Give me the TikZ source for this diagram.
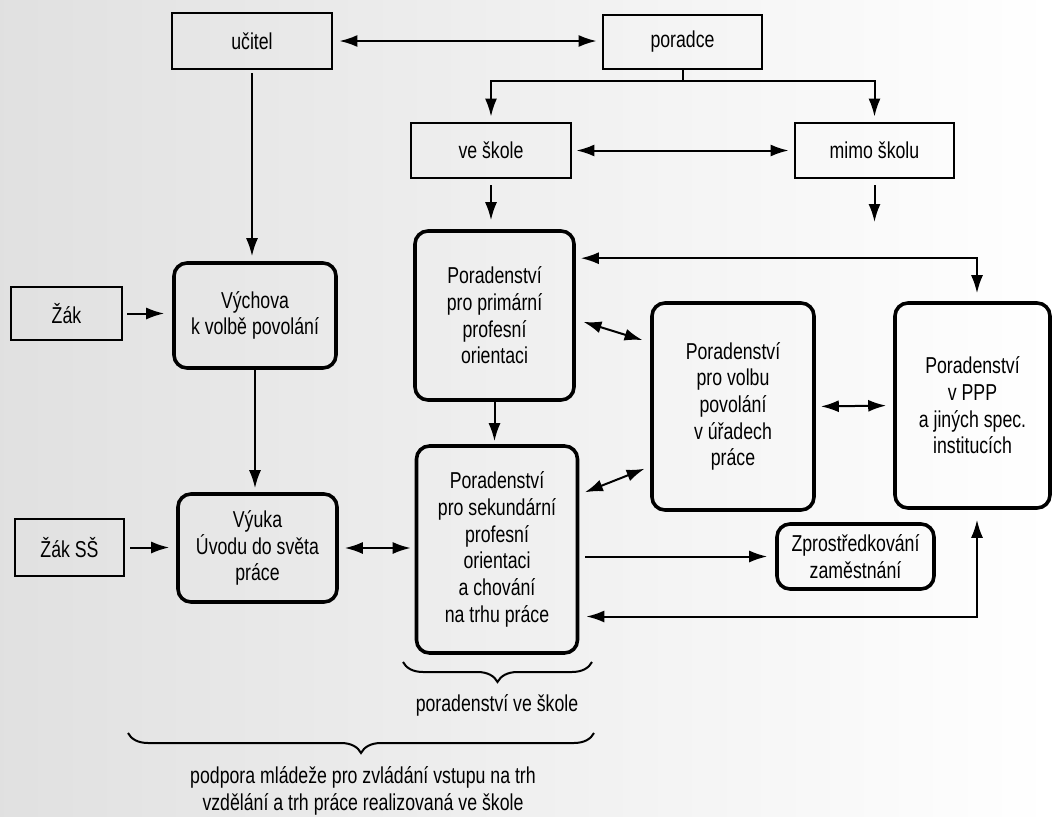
\documentclass[tikz,border=0pt]{standalone}
\usepackage{fontspec}
\setmainfont[FakeStretch=0.77]{Liberation Sans}
\usetikzlibrary{arrows.meta,calc,decorations.pathreplacing}
\newcommand\mylbl{\fontsize{23}{26.7}\selectfont}
\begin{document}
\begin{tikzpicture}[x=1pt,y=-1pt,
  box/.style={draw, line width=2.8pt, inner sep=0pt, align=center, font=\mylbl},
  rbox/.style={box, rounded corners=13pt, line width=3.6pt},
  arr/.style={line width=2pt, -{Latex[length=18pt,width=12pt]}},
  darr/.style={line width=2pt, {Latex[length=18pt,width=12pt]}-{Latex[length=18pt,width=12pt]}},
  brc/.style={line width=2pt, decorate, decoration={brace, mirror, amplitude=20pt}},
  txt/.style={align=center, font=\mylbl, inner sep=0pt}]
\shade[left color=black!12, right color=white] (0,0) rectangle (1053,817);
\useasboundingbox (0,0) rectangle (1053,817);

% nodes
\node[box, minimum width=160pt, minimum height=56pt] (ucitel) at (252,41) {učitel};
\node[box, minimum width=159pt, minimum height=54pt] (poradce) at (682.5,42) {poradce};
\node[box, minimum width=160pt, minimum height=55pt] (veskole) at (491,150.5) {ve škole};
\node[box, minimum width=159pt, minimum height=55pt] (mimo) at (874.5,150.5) {mimo školu};
\node[box, minimum width=111pt, minimum height=53pt] (zak) at (66.5,313.5) {Žák};
\node[rbox, minimum width=162pt, minimum height=105pt] (vychova) at (255,315.5) {Výchova\\k volbě povolání};
\node[rbox, minimum width=159pt, minimum height=169pt] (primary) at (494.5,315.5) {Poradenství\\pro primární\\profesní\\orientaci};
\node[rbox, minimum width=162pt, minimum height=207pt] (urad) at (733,406.5) {Poradenství\\pro volbu\\povolání\\v úřadech\\práce};
\node[rbox, minimum width=155pt, minimum height=205pt] (ppp) at (972.5,405.5) {Poradenství\\v PPP\\a jiných spec.\\institucích};
\node[box, minimum width=109pt, minimum height=57pt] (zakss) at (69.5,547.5) {Žák SŠ};
\node[rbox, minimum width=159pt, minimum height=108pt] (vyuka) at (257.5,548) {Výuka\\Úvodu do světa\\práce};
\node[rbox, minimum width=161pt, minimum height=207pt] (secondary) at (497,549.5) {Poradenství\\pro sekundární\\profesní\\orientaci\\a chování\\na trhu práce};
\node[rbox, minimum width=157pt, minimum height=65pt] (zpros) at (855.5,556.5) {Zprostředkování\\zaměstnání};

% connectors
\draw[darr, shorten <=6pt, shorten >=5pt] (ucitel.east) -- (ucitel.east -| poradce.west);
\draw[line width=2pt] (poradce.south) -- ++(0,11) coordinate (br);
\draw[arr, shorten >=5pt] (br) -| (veskole.north);
\draw[arr, shorten >=5pt] (br) -| (mimo.north);
\draw[darr, shorten <=4pt, shorten >=5pt] (veskole.east) -- (mimo.west);
\draw[arr, shorten <=6pt, shorten >=9pt] (veskole.south) -- (veskole.south |- primary.north);
\coordinate (mimoend) at (874.5,222);
\draw[arr, shorten <=6pt] (mimo.south) -- (mimoend);
\draw[darr, shorten <=5pt, shorten >=8pt] ($(primary.north east)+(0,29)$) -| ([xshift=4.5pt]ppp.north);
\draw[darr, shorten <=8pt, shorten >=8pt] ($(primary.east)+(0,4)$) -- ($(urad.west)+(0,-64)$);
\draw[darr, shorten <=6pt, shorten >=6pt] ($(secondary.east)+(0,-55)$) -- ($(urad.west)+(0,60)$);
\draw[darr, shorten <=5pt, shorten >=7pt] (urad.east) -- (ppp.west);
\draw[arr, shorten >=3pt] (primary.south) -- (primary.south |- secondary.north);
\draw[arr, shorten <=3pt, shorten >=5pt] (ucitel.south) -- (ucitel.south |- vychova.north);
\draw[arr, shorten >=4pt] (vychova.south) -- (vychova.south |- vyuka.north);
\draw[arr, shorten <=4pt, shorten >=8pt] (zak.east) -- (zak.east -| vychova.west);
\draw[arr, shorten <=5pt, shorten >=7pt] (zakss.east) -- (zakss.east -| vyuka.west);
\draw[darr, shorten <=6pt, shorten >=4pt] (vyuka.east) -- (vyuka.east -| secondary.west);
\draw[arr, shorten <=6pt, shorten >=8pt] (secondary.east |- zpros.west) -- (zpros.west);
\draw[darr, shorten <=7pt, shorten >=10pt] ($(secondary.east)+(0,67)$) -| ([xshift=4.5pt]ppp.south);

% braces and captions
\draw[brc] (403,662) -- (592,662);
\node[txt] (lbl1) at (497,705) {poradenství ve škole};
\draw[brc] (128,733) -- (594,733);
\node[txt] (lbl2) at (363,791) {podpora mládeže pro zvládání vstupu na trh\\vzdělání a trh práce realizovaná ve škole};
\end{tikzpicture}
\end{document}
